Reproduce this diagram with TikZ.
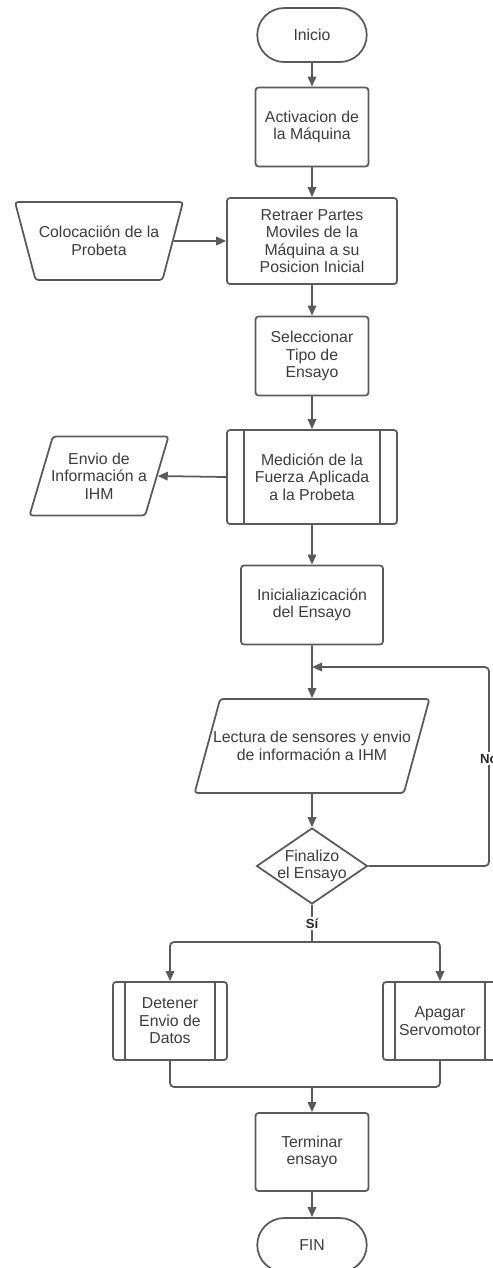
\documentclass[tikz,border=0pt]{standalone}
\usepackage{fontspec}
\setmainfont{Liberation Sans}
\usetikzlibrary{arrows.meta,shapes.geometric,shapes.misc}

\definecolor{linegray}{HTML}{5A5A5A}
\definecolor{textgray}{HTML}{3C3C3C}

\tikzset{
    base/.style={draw=linegray, line width=1pt, text=textgray, align=center,
        font=\fontsize{9}{10}\selectfont, inner sep=1pt},
    box/.style={base, rectangle, rounded corners=0.06cm},
    term/.style={base, rounded rectangle, minimum width=2.26cm, minimum height=1.08cm},
    subproc/.style={box, path picture={
        \draw[linegray, line width=1pt]
            ([xshift=#1]path picture bounding box.north west) -- ([xshift=#1]path picture bounding box.south west)
            ([xshift=-#1]path picture bounding box.north east) -- ([xshift=-#1]path picture bounding box.south east);}},
    io/.style={base, trapezium, trapezium left angle=#1, trapezium right angle=180-#1,
        trapezium stretches body=true, rounded corners=0.06cm},
    manual/.style={base, trapezium, shape border rotate=180, trapezium left angle=#1,
        trapezium right angle=#1, trapezium stretches body=true, rounded corners=0.06cm},
    decision/.style={base, diamond, aspect=1.46, inner sep=-3pt, minimum width=2.22cm, minimum height=1.52cm},
    conn/.style={draw=linegray, line width=1pt, rounded corners=0.08cm},
    flow/.style={conn, -{Triangle[length=0.2cm, width=0.17cm]}},
    tag/.style={text=black!85, font=\fontsize{7.5}{8}\selectfont\bfseries, fill=white, inner sep=1pt}
}

\begin{document}
\begin{tikzpicture}[x=0.02cm, y=-0.02cm]

    \useasboundingbox (0,0) rectangle (493,1268);

    % Main column
    \node[term] (ini) at (312,35) {Inicio};
    \node[box, minimum width=2.26cm, minimum height=1.58cm] (act) at (312,127) {Activacion de\\la Máquina};
    \node[box, minimum width=3.40cm, minimum height=1.72cm] (ret) at (312,241)
        {Retraer Partes\\Moviles de la\\Máquina a su\\Posicion Inicial};
    \node[box, minimum width=2.26cm, minimum height=1.58cm] (sel) at (312,356) {Seleccionar\\Tipo de\\Ensayo};
    \node[subproc=0.34cm, minimum width=3.40cm, minimum height=1.88cm] (med) at (312,477)
        {Medición de la\\Fuerza Aplicada\\a la Probeta};
    \node[box, minimum width=2.84cm, minimum height=1.58cm] (inic) at (312,605) {Inicialiazicación\\del Ensayo};
    \node[io=52, inner xsep=-4pt, minimum width=4.60cm, minimum height=1.88cm] (lec) at (312,746)
        {Lectura de sensores y envio\\de información a IHM};
    \node[decision] (dec) at (312,866) {Finalizo\\el Ensayo};

    % Side blocks
    \node[manual=58, minimum width=3.36cm, minimum height=1.56cm] (col) at (99,241) {Colocaciión de la\\Probeta};
    \node[io=65, inner xsep=-1pt, minimum width=2.70cm, minimum height=1.58cm] (env) at (99,476) {Envio de\\Información a\\IHM};

    % Branches
    \node[subproc=0.24cm, minimum width=2.28cm, minimum height=1.56cm] (det) at (170,1021) {Detener\\Envio de\\Datos};
    \node[subproc=0.24cm, minimum width=2.28cm, minimum height=1.56cm] (apa) at (440,1021) {Apagar\\Servomotor};
    \node[box, minimum width=2.26cm, minimum height=1.56cm] (ter) at (312,1152) {Terminar\\ensayo};
    \node[term] (fin) at (312,1245) {FIN};

    % Junctions
    \coordinate (loopR) at (489,667);
    \coordinate (loopL) at (312,667);
    \coordinate (split) at (312,942);
    \coordinate (merge) at (312,1087);

    % Connectors
    \draw[flow] (ini) -- (act);
    \draw[flow] (act) -- (ret);
    \draw[flow] (col.east) -- (ret.west);
    \draw[flow] (ret) -- (sel);
    \draw[flow] (sel) -- (med);
    \draw[flow] (med.west) -- (env.east);
    \draw[flow] (med) -- (inic);
    \draw[flow] (inic) -- (lec);
    \draw[flow] (lec) -- (dec);
    \draw[flow] (dec.east) -| node[tag, pos=0.77] (no) {No} (loopR) -- (loopL);
    \draw[conn] (dec.south) -- node[tag] (si) {Sí} (split);
    \draw[flow] (split) -| (det.north);
    \draw[flow] (split) -| (apa.north);
    \draw[conn] (det.south) |- (merge) -| (apa.south);
    \draw[flow] (merge) -- (ter);
    \draw[flow] (ter) -- (fin);

\end{tikzpicture}
\end{document}
